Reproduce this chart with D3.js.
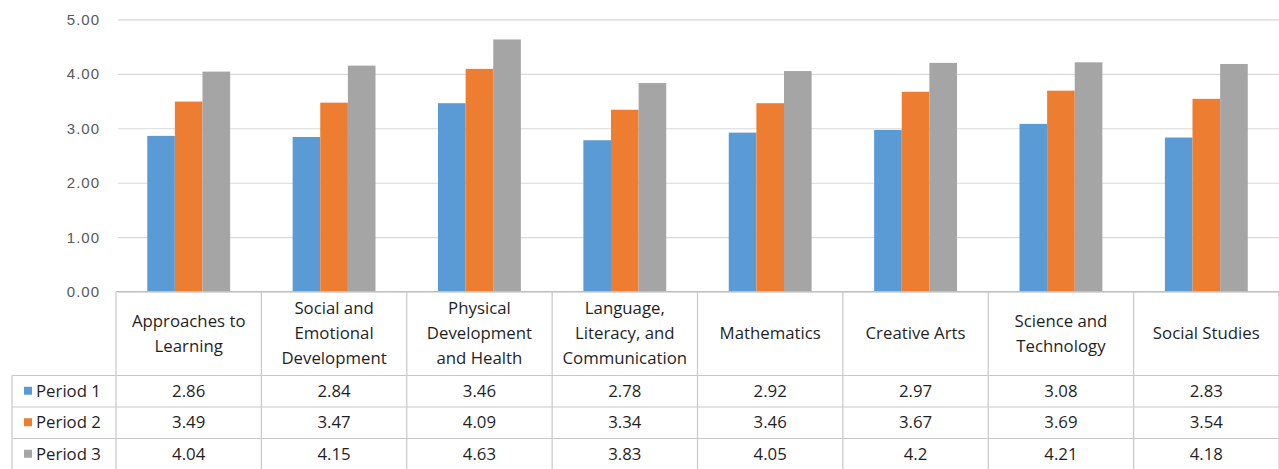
<!DOCTYPE html>
<html>
<head>
<meta charset="utf-8">
<script src="https://cdn.jsdelivr.net/npm/d3@7"></script>
<style>
  html, body { margin: 0; padding: 0; background: #fff; }
  svg { display: block; font-family: "Open Sans", "Liberation Sans", sans-serif; }
</style>
</head>
<body>
<svg id="chart" width="1279" height="469"></svg>
<script>
const categories = [
  "Approaches to\nLearning",
  "Social and\nEmotional\nDevelopment",
  "Physical\nDevelopment\nand Health",
  "Language,\nLiteracy, and\nCommunication",
  "Mathematics",
  "Creative Arts",
  "Science and\nTechnology",
  "Social Studies"
];
const seriesNames = ["Period 1", "Period 2", "Period 3"];
const period1 = [2.86, 2.84, 3.46, 2.78, 2.92, 2.97, 3.08, 2.83];
const period2 = [3.49, 3.47, 4.09, 3.34, 3.46, 3.67, 3.69, 3.54];
const period3 = [4.04, 4.15, 4.63, 3.83, 4.05, 4.2, 4.21, 4.18];
const tableLabels = [
  ["2.86", "2.84", "3.46", "2.78", "2.92", "2.97", "3.08", "2.83"],
  ["3.49", "3.47", "4.09", "3.34", "3.46", "3.67", "3.69", "3.54"],
  ["4.04", "4.15", "4.63", "3.83", "4.05", "4.2", "4.21", "4.18"]
];
const yTicks = [0, 1, 2, 3, 4, 5];
const colors = ["#5b9bd5", "#ed7d31", "#a5a5a5"];

const series = [period1, period2, period3];

const svg = d3.select("#chart");
const plotLeft = 116, plotRight = 1279, plotTop = 19.3, plotBottom = 291.7;
const tableLeft = 12;
const headerBottom = 375.5;
const rowBounds = [375.5, 407, 438.5, 470];
const gridColor = "#d9d9d9";
const tableLine = "#c8c8c8";
const txtSize = "16.8px";

const y = d3.scaleLinear().domain([0, 5]).range([plotBottom, plotTop]);
const x0 = d3.scaleBand().domain(d3.range(categories.length))
  .range([plotLeft, plotRight]).paddingInner(0.43).paddingOuter(0.215);
const x1 = d3.scaleBand().domain(d3.range(series.length)).range([0, x0.bandwidth()]);
const step = x0.step();

// gridlines + y labels via axis
const yAxis = d3.axisLeft(y).tickValues(yTicks).tickFormat(d3.format(".2f"))
  .tickSize(-(plotRight - plotLeft - 2)).tickPadding(18);
const gAxis = svg.append("g").attr("transform", `translate(${plotLeft + 2},0)`).call(yAxis);
gAxis.select(".domain").remove();
gAxis.selectAll(".tick line").attr("stroke", gridColor).attr("stroke-width", 1.2);
gAxis.selectAll(".tick text").attr("fill", "#595959").style("font-size", "15px")
  .style("letter-spacing", "1px");

// bars
const groups = svg.append("g").selectAll("g").data(series).join("g")
  .attr("fill", (d, i) => colors[i]);
groups.each(function(vals, si) {
  d3.select(this).selectAll("rect").data(vals).join("rect")
    .attr("x", (d, ci) => x0(ci) + x1(si))
    .attr("width", x1.bandwidth())
    .attr("y", d => y(d))
    .attr("height", d => y(0) - y(d));
});

// table
const tbl = svg.append("g").attr("stroke", tableLine).attr("stroke-width", 1.2);
tbl.append("line").attr("x1", plotLeft).attr("x2", plotRight).attr("y1", y(0)).attr("y2", y(0))
  .attr("stroke", "#bfbfbf");
rowBounds.slice(0, 3).forEach(yy => {
  tbl.append("line").attr("x1", tableLeft).attr("x2", plotRight).attr("y1", yy).attr("y2", yy);
});
d3.range(categories.length + 1).forEach(i => {
  const xx = plotLeft + i * step;
  tbl.append("line").attr("x1", xx).attr("x2", xx).attr("y1", y(0)).attr("y2", 469);
});
tbl.append("line").attr("x1", tableLeft).attr("x2", tableLeft).attr("y1", rowBounds[0]).attr("y2", 469);

// header labels
const headerMid = (y(0) + headerBottom) / 2;
const lineH = 25;
categories.forEach((c, i) => {
  const lines = c.split("\n");
  const cx = plotLeft + (i + 0.5) * step;
  const t = svg.append("text").attr("text-anchor", "middle").attr("fill", "#1f1f1f")
    .style("font-size", txtSize);
  lines.forEach((ln, k) => {
    t.append("tspan").attr("x", cx)
      .attr("y", headerMid + (k - (lines.length - 1) / 2) * lineH)
      .attr("dy", "0.35em").text(ln);
  });
});

// rows
seriesNames.forEach((name, r) => {
  const cy = (rowBounds[r] + rowBounds[r + 1]) / 2 - 0.5;
  svg.append("rect").attr("x", 24).attr("y", cy - 4).attr("width", 8).attr("height", 8)
    .attr("fill", colors[r]);
  svg.append("text").attr("x", 36).attr("y", cy).attr("dy", "0.35em")
    .attr("fill", "#1f1f1f").style("font-size", txtSize).text(name);
  tableLabels[r].forEach((v, i) => {
    svg.append("text").attr("x", plotLeft + (i + 0.5) * step).attr("y", cy).attr("dy", "0.35em")
      .attr("text-anchor", "middle").attr("fill", "#1f1f1f").style("font-size", txtSize).text(v);
  });
});
</script>
</body>
</html>
